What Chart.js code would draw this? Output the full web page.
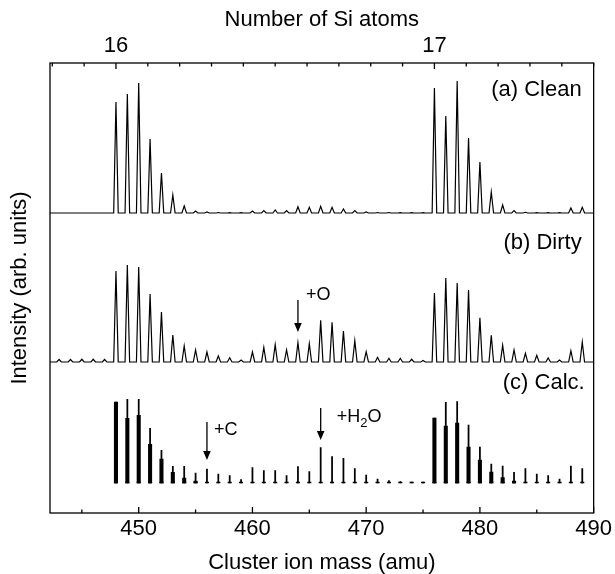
<!DOCTYPE html>
<html>
<head>
<meta charset="utf-8">
<script src="https://cdn.jsdelivr.net/npm/chart.js@4.4.1/dist/chart.umd.min.js"></script>
<style>
  html, body { margin: 0; padding: 0; background: #fff; }
  #wrap { width: 615px; height: 574px; }
</style>
</head>
<body>
<div id="wrap"><canvas id="massChart"></canvas></div>
<script>
// cluster ion mass (amu), one entry per integer mass
const masses = [443, 444, 445, 446, 447, 448, 449, 450, 451, 452, 453, 454, 455, 456, 457, 458, 459, 460,
  461, 462, 463, 464, 465, 466, 467, 468, 469, 470, 471, 472, 473, 474, 475, 476, 477, 478, 479, 480,
  481, 482, 483, 484, 485, 486, 487, 488, 489];

// (a) clean surface
const cleanIntensity = [0, 0, 0, 0, 0, 111, 119, 130, 74, 40, 18, 7, 2, 1, 0.5, 0.3, 0.3, 2,
  2.3, 3, 2.3, 6.3, 5.7, 6.7, 5.7, 4, 2.3, 1, 0.5, 0.5, 0.3, 0.3, 0.3, 125, 97, 132, 75, 51,
  21, 8, 2.3, 0.7, 0.3, 0.3, 0.3, 5, 5.7];

// (b) dirty surface
const dirtyIntensity = [2.5, 2.5, 2.7, 2.7, 2.5, 91, 97, 95, 68, 50, 27, 16, 12, 10, 6, 4.3, 2, 10,
  14.7, 17.3, 12, 19.3, 18.3, 41.7, 39.7, 31, 21.3, 10.3, 4.7, 3.7, 3.7, 2.7, 1.5, 69, 84, 79, 72, 44.3,
  26.7, 16.7, 12, 8.7, 6.7, 4, 2, 11.3, 20];

// (c) calculated: pure Si isotope pattern (thick) and with C / O / H2O added (thin)
const calcSiOnly = [null, null, null, null, null, 81, 64.7, 67.7, 38.7, 24, 10.7, 5, 2, null, null, null, null, null,
  null, null, null, null, null, null, null, null, null, null, null, null, null, null, null, 65, 57, 60, 36, 23,
  11, 5.3, 2, null, null, null, null, null, null];
const calcTotal = [null, null, null, null, null, 81, 83.7, 83.7, 54.7, 32.7, 16.7, 16.7, 10, 14, 9, 7.3, 3.3, 15.3,
  12.3, 12.3, 7.3, 16.3, 11.3, 35.3, 26.3, 24.7, 14.3, 8, 4, 2.3, 1.3, 1, 1, 65, 80.7, 81.3, 58, 36,
  19, 17, 10.7, 14.3, 9, 7.3, 4, 17, 14.3];

const massTicks = [450, 460, 470, 480, 490];
const siAtomTicks = [16, 17];
const SI_MASS = 28;

const X_MIN = 442.2;
const X_MAX = 490;
const PEAK_HALF = 0.2;
const base = { clean: 270, dirty: 121, calc: 0 };
const FONT = '"Liberation Sans", Arial, sans-serif';

function peakLine(values, y0) {
  const pts = [{ x: X_MIN, y: y0 }];
  masses.forEach((m, i) => {
    pts.push({ x: m - PEAK_HALF, y: y0 });
    pts.push({ x: m, y: y0 + values[i] });
    pts.push({ x: m + PEAK_HALF, y: y0 });
  });
  pts.push({ x: X_MAX, y: y0 });
  return pts;
}

function barData(values, y0, stub) {
  const out = [];
  masses.forEach((m, i) => {
    if (values[i] !== null) out.push({ x: m, y: [y0, y0 + (stub || values[i])] });
  });
  return out;
}

// arrows, labels, frame and inward ticks
const decorPlugin = {
  id: "decor",
  afterDraw(chart) {
    const { ctx, chartArea: a, scales } = chart;
    const xs = scales.x;
    const ys = scales.y;
    ctx.save();
    ctx.strokeStyle = "#000";
    ctx.fillStyle = "#000";
    ctx.lineWidth = 1.3;
    ctx.strokeRect(a.left, a.top, a.right - a.left, a.bottom - a.top);

    const tick = (px, y, len) => {
      ctx.beginPath();
      ctx.moveTo(px, y);
      ctx.lineTo(px, y + len);
      ctx.stroke();
    };
    for (let m = 445; m <= X_MAX; m += 5) {
      tick(xs.getPixelForValue(m), a.bottom, m % 10 === 0 ? -6 : -3.5);
    }
    for (let k = 150; k <= 180; k++) {
      const m = (k / 10) * SI_MASS;
      if (m < X_MIN || m > X_MAX) continue;
      tick(xs.getPixelForValue(m), a.top, k % 10 === 0 ? 6 : 3.5);
    }

    // panel labels
    ctx.font = "22px " + FONT;
    ctx.textAlign = "right";
    ctx.textBaseline = "middle";
    ctx.fillText("(a) Clean", a.right - 12, ys.getPixelForValue(base.clean + 123));
    ctx.fillText("(b) Dirty", a.right - 12, ys.getPixelForValue(base.dirty + 119));
    ctx.fillText("(c) Calc.", a.right - 9, ys.getPixelForValue(base.calc + 100));

    // arrows
    const arrow = (m, from, to) => {
      const px = xs.getPixelForValue(m);
      const y0 = ys.getPixelForValue(from);
      const y1 = ys.getPixelForValue(to);
      ctx.beginPath();
      ctx.moveTo(px, y0);
      ctx.lineTo(px, y1 - 8);
      ctx.stroke();
      ctx.beginPath();
      ctx.moveTo(px - 3.8, y1 - 9);
      ctx.lineTo(px + 3.8, y1 - 9);
      ctx.lineTo(px, y1);
      ctx.closePath();
      ctx.fill();
      return px;
    };
    ctx.font = "18px " + FONT;
    ctx.textAlign = "left";
    let px = arrow(464, base.dirty + 62, base.dirty + 30);
    ctx.fillText("+O", px + 8, ys.getPixelForValue(base.dirty + 67));
    px = arrow(456, base.calc + 61, base.calc + 23);
    ctx.fillText("+C", px + 7, ys.getPixelForValue(base.calc + 53));
    px = arrow(466, base.calc + 75, base.calc + 43);
    let tx = px + 16;
    const ty = ys.getPixelForValue(base.calc + 66);
    ctx.fillText("+H", tx, ty);
    tx += ctx.measureText("+H").width;
    ctx.font = "13px " + FONT;
    ctx.fillText("2", tx, ty + 6);
    tx += ctx.measureText("2").width;
    ctx.font = "18px " + FONT;
    ctx.fillText("O", tx, ty);
    ctx.restore();
  },
};

document.addEventListener("DOMContentLoaded", function () {
  const ctx = document.getElementById("massChart").getContext("2d");
  const spectrumLine = (label, values, y0) => ({
    label: label,
    data: peakLine(values, y0),
    borderColor: "#000",
    borderWidth: 1.2,
    pointRadius: 0,
    tension: 0,
    fill: false,
  });
  const calcBars = (label, data, width, order) => ({
    type: "bar",
    label: label,
    data: data,
    backgroundColor: "#000",
    barThickness: width,
    grouped: false,
    order: order,
  });
  new Chart(ctx, {
    type: "line",
    data: {
      datasets: [
        spectrumLine("Clean", cleanIntensity, base.clean),
        spectrumLine("Dirty", dirtyIntensity, base.dirty),
        calcBars("Calc. Si only", barData(calcSiOnly, base.calc), 3.4, 0),
        calcBars("Calc. total", barData(calcTotal, base.calc), 1.1, 1),
        calcBars("Calc. foot", barData(calcTotal, base.calc, 1), 3.4, 2),
      ],
    },
    options: {
      responsive: true,
      maintainAspectRatio: false,
      animation: false,
      layout: { padding: { left: 0, right: 19, top: 0, bottom: 0 } },
      plugins: {
        legend: { display: false },
        tooltip: { enabled: false },
      },
      scales: {
        x: {
          type: "linear",
          position: "bottom",
          min: X_MIN,
          max: X_MAX,
          offset: false,
          afterBuildTicks: (s) => {
            s.ticks = massTicks.map((v) => ({ value: v }));
          },
          afterFit: (s) => {
            s.height = 61;
          },
          ticks: {
            autoSkip: false,
            maxRotation: 0,
            padding: 3,
            color: "#000",
            font: { family: FONT, size: 22 },
          },
          grid: { display: false, drawTicks: false },
          border: { display: false },
          title: {
            display: true,
            text: "Cluster ion mass (amu)",
            color: "#000",
            font: { family: FONT, size: 22, lineHeight: 1 },
            padding: { top: 0, bottom: 0 },
          },
        },
        xTop: {
          type: "linear",
          position: "top",
          min: X_MIN,
          max: X_MAX,
          offset: false,
          afterBuildTicks: (s) => {
            s.ticks = siAtomTicks.map((n) => ({ value: n * SI_MASS }));
          },
          afterFit: (s) => {
            s.height = 63;
          },
          ticks: {
            autoSkip: false,
            maxRotation: 0,
            padding: 4,
            color: "#000",
            font: { family: FONT, size: 22 },
            callback: (v) => Math.round(v / SI_MASS),
          },
          grid: { display: false, drawTicks: false },
          border: { display: false },
          title: {
            display: true,
            text: "Number of Si atoms",
            color: "#000",
            font: { family: FONT, size: 22, lineHeight: 1 },
            padding: { top: 9, bottom: 0 },
          },
        },
        y: {
          min: -30,
          max: 420,
          afterFit: (s) => {
            s.width = 50;
          },
          ticks: { display: false },
          grid: { display: false, drawTicks: false },
          border: { display: false },
          title: {
            display: true,
            text: "Intensity (arb. units)",
            color: "#000",
            font: { family: FONT, size: 22, lineHeight: 1 },
            padding: { top: 9, bottom: 0 },
          },
        },
      },
    },
    plugins: [decorPlugin],
  });
});
</script>
</body>
</html>
